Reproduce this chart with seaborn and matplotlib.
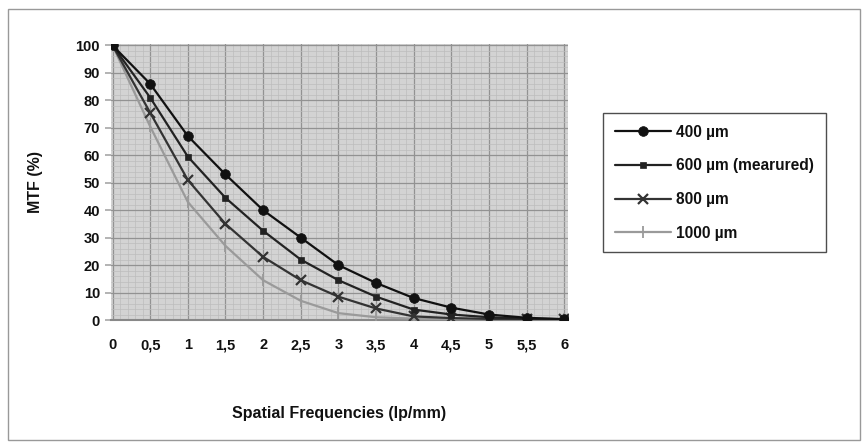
import matplotlib
matplotlib.use("Agg")
import matplotlib.pyplot as plt
import seaborn as sns
import numpy as np
import pandas as pd
from matplotlib.ticker import MultipleLocator, AutoMinorLocator
from matplotlib.patches import Rectangle

sns.set_theme(style="white")
plt.rcParams['font.family'] = ['Liberation Sans', 'DejaVu Sans']

freq = [0, 0.5, 1, 1.5, 2, 2.5, 3, 3.5, 4, 4.5, 5, 5.5, 6]
tick_labels = ["0", "0,5", "1", "1,5", "2", "2,5", "3", "3,5", "4", "4,5", "5", "5,5", "6"]
mtf_400 = [100, 86, 67, 53, 40, 30, 20, 13.5, 8, 4.5, 2, 0.8, 0.3]
mtf_600 = [100, 81, 59.5, 44.5, 32.5, 22, 14.5, 8.5, 3.8, 2, 1, 0.5, 0.3]
mtf_800 = [100, 75.5, 51, 35, 23, 14.5, 8.5, 4.2, 1.3, 0.7, 0.4, 0.3, 0.3]
mtf_1000 = [100, 70.5, 43, 27, 14.5, 7, 2.5, 1, 0.5, 0.3, 0.2, 0.2, 0.2]
series_names = ["400 µm", "600 µm (mearured)", "800 µm", "1000 µm"]

df = pd.DataFrame({"freq": freq * 4,
                   "mtf": mtf_400 + mtf_600 + mtf_800 + mtf_1000,
                   "series": sum([[n] * len(freq) for n in series_names], [])})

fig = plt.figure(figsize=(8.68, 4.48), dpi=100)
ax = fig.add_axes([111/868, 1-320/448, (568-111)/868, (320-44)/448])

styles = {
    "400 µm": dict(color="#111111", marker="o", ms=7, mew=0.5),
    "600 µm (mearured)": dict(color="#222222", marker="s", ms=5, mew=0.5),
    "800 µm": dict(color="#333333", marker="x", ms=7, mew=1.6),
    "1000 µm": dict(color="#9a9a9a", marker="|", ms=9, mew=1.3),
}
order = ["1000 µm", "800 µm", "600 µm (mearured)", "400 µm"]
for name in order:
    st = styles[name]
    sub = df[df.series == name]
    sns.lineplot(data=sub, x="freq", y="mtf", ax=ax, color=st["color"], lw=1.6,
                 marker=st["marker"], markersize=st["ms"], markeredgewidth=st["mew"],
                 markeredgecolor=st["color"], markerfacecolor=st["color"],
                 label=name, zorder=3, legend=False)

ax.set_facecolor("#d3d3d3")
ax.set_xlim(-0.02, 6.05)
ax.set_ylim(0, 100.5)
ax.grid(which="minor", color="#bdbdbd", lw=0.5)
ax.grid(which="major", color="#929292", lw=0.9)
ax.set_axisbelow(True)
for s in ["top", "right", "left"]:
    ax.spines[s].set_visible(False)
ax.spines["bottom"].set_color("#888888")
ax.spines["bottom"].set_linewidth(1.5)

ax.set_xticks(freq)
ax.set_xticklabels(tick_labels, fontsize=10.5, fontweight="bold", color="#111111")
ax.set_yticks(range(0, 101, 10))
ax.set_yticklabels([str(v) for v in range(0, 101, 10)], fontsize=10.5, fontweight="bold", color="#111111")
ax.xaxis.set_minor_locator(AutoMinorLocator(5))
ax.yaxis.set_minor_locator(AutoMinorLocator(5))
ax.tick_params(axis="x", which="major", length=0, pad=13)
ax.tick_params(axis="y", which="major", length=4, color="#aaaaaa", pad=4, left=True)
ax.tick_params(which="minor", length=0)

ax.set_xlabel("Spatial Frequencies (lp/mm)", fontsize=11.5, fontweight="bold", color="#111111")
ax.set_ylabel("MTF (%)", fontsize=11.5, fontweight="bold", color="#111111")
ax.xaxis.set_label_coords(0.5, -0.31)
ax.yaxis.set_label_coords(-0.148, 0.5)

handles, labels = ax.get_legend_handles_labels()
hmap = dict(zip(labels, handles))
leg = fig.legend([hmap[n] for n in series_names], series_names,
                 loc="upper left", bbox_to_anchor=(603/868, 1-113/448),
                 bbox_transform=fig.transFigure, frameon=True, fancybox=False,
                 edgecolor="#222222", prop=dict(size=11.2, weight="bold"),
                 labelspacing=1.2, handlelength=3.6, handletextpad=0.35,
                 borderpad=0.75, borderaxespad=0)
leg.get_frame().set_linewidth(1.0)
for t in leg.get_texts():
    t.set_color("#111111")

fig.patches.append(Rectangle((8/868, 1-440/448), (860-8)/868, (440-9)/448,
                             transform=fig.transFigure, fill=False,
                             edgecolor="#999999", lw=1.0))

fig.savefig("out.png", dpi=100, facecolor="white")
